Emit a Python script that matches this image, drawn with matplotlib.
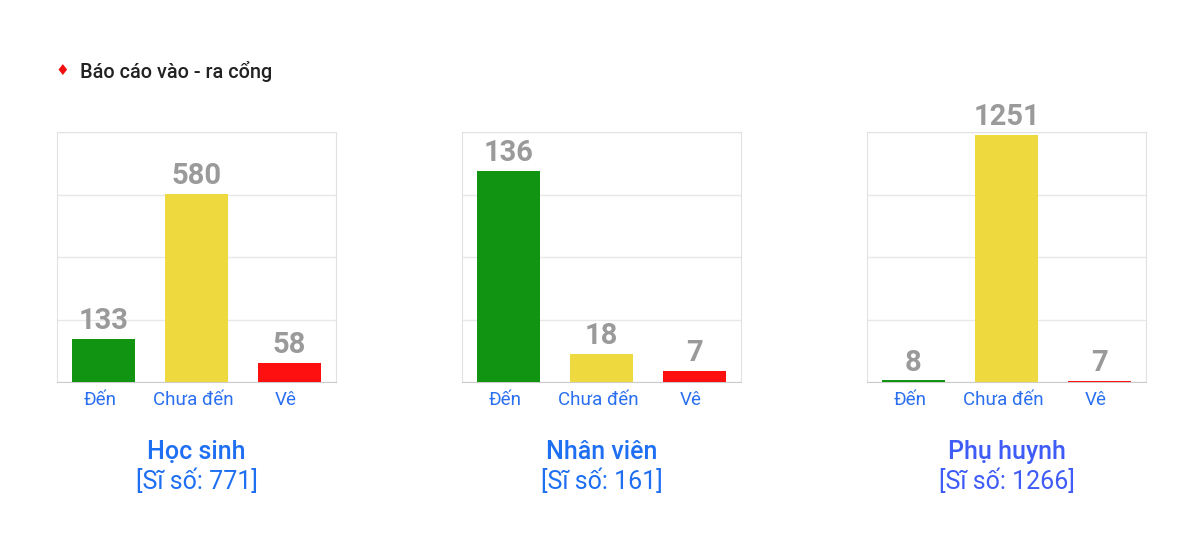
import matplotlib.pyplot as plt
import matplotlib.transforms as mtransforms
import numpy as np

plt.rcParams['font.family'] = ['Roboto', 'DejaVu Sans']

# du lieu
categories = ['Đến', 'Chưa đến', 'Vê']
groups = ['Học sinh', 'Nhân viên', 'Phụ huynh']
totals = [771, 161, 1266]
values = [
    [133, 580, 58],
    [136, 18, 7],
    [8, 1251, 7],
]
bar_colors = ['#129413', '#eed93f', '#fe1010']
title_colors = ['#1f6ff2', '#1f6ff2', '#3f5cf6']

W, H = 1204, 559
fig = plt.figure(figsize=(W / 100, H / 100), dpi=100)

# tieu de
fig.text(62 / W, 1 - 71 / H, '♦', color='#f01010', fontsize=11,
         ha='center', va='center')
fig.text(80 / W, 1 - 71 / H, 'Báo cáo vào - ra cổng', color='#222222',
         fontsize=14.3, weight='medium', ha='left', va='center')

# dich nhan truc x sang trai mot chut
shift = mtransforms.ScaledTranslation(-3.5 / 100, 0, fig.dpi_scale_trans)

lefts = [57, 462, 867]
for i in range(3):
    ax = fig.add_axes([lefts[i] / W, (H - 382) / H, 279 / W, 250 / H])
    x = np.arange(len(categories))
    bars = ax.bar(x, values[i], width=0.68, color=bar_colors, zorder=3)
    ax.set_xlim(-0.5, 2.5)
    ax.set_ylim(0, totals[i])
    ax.set_yticks(np.linspace(0, totals[i], 5))
    ax.set_yticklabels([])
    ax.tick_params(axis='y', length=0)
    ax.tick_params(axis='x', length=0, pad=6.5, labelsize=13.5, labelcolor='#2a6ff0')
    ax.set_xticks(x)
    ax.set_xticklabels(categories)
    for lbl in ax.get_xticklabels():
        lbl.set_transform(lbl.get_transform() + shift)
    ax.grid(axis='y', color='#e8e8e8', linewidth=1, zorder=0)
    for s in ['left', 'right', 'top']:
        ax.spines[s].set_color('#e2e2e2')
    ax.spines['bottom'].set_color('#cccccc')

    for b, v in zip(bars, values[i]):
        ax.annotate(str(v), (b.get_x() + b.get_width() / 2, v),
                    xytext=(0, 7), textcoords='offset points',
                    ha='center', va='baseline', fontsize=21,
                    weight='bold', color='#9a9a9a', zorder=4)

    cx = (lefts[i] + 139.5) / W
    fig.text(cx, 1 - 452 / H, groups[i], color=title_colors[i], fontsize=18,
             weight='medium', ha='center', va='center')
    fig.text(cx, 1 - 481 / H, '[Sĩ số: %d]' % totals[i], color=title_colors[i],
             fontsize=18, ha='center', va='center')

fig.savefig('out.png', dpi=100)
